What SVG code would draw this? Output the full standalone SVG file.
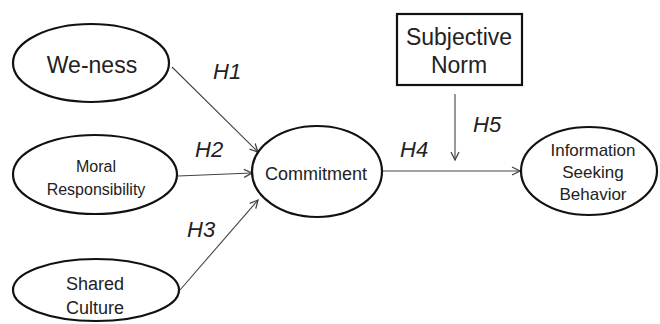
<svg xmlns="http://www.w3.org/2000/svg" width="660" height="324" viewBox="0 0 660 324">
  <style>
    .node { fill: #fff; stroke: #111; stroke-width: 2.2; }
    .lbl { font-family: "Liberation Sans", Arial, sans-serif; fill: #222; text-anchor: middle; }
    .hyp { font-family: "Liberation Sans", Arial, sans-serif; font-style: italic; fill: #222; font-size: 22px; }
    .edge { stroke: #444; stroke-width: 1.1; fill: none; marker-end: url(#open); }
  </style>
  <defs>
    <marker id="open" viewBox="0 0 10 10" refX="9" refY="5" markerWidth="10" markerHeight="10" markerUnits="userSpaceOnUse" orient="auto">
      <path d="M1,1 L9,5 L1,9" fill="none" stroke="#444" stroke-width="1.3"/>
    </marker>
  </defs>
  <rect width="660" height="324" fill="#fff"/>

  <!-- hypothesis paths -->
  <g id="connectors">
    <line class="edge" x1="172" y1="67" x2="258" y2="152"/>
    <line class="edge" x1="178" y1="176" x2="252" y2="173"/>
    <line class="edge" x1="180" y1="290" x2="258" y2="200"/>
    <line class="edge" x1="382" y1="171" x2="520" y2="171"/>
    <line class="edge" x1="455" y1="94" x2="455" y2="160"/>
  </g>

  <g id="labels">
    <text class="hyp" x="213" y="79">H1</text>
    <text class="hyp" x="195" y="157">H2</text>
    <text class="hyp" x="187" y="237">H3</text>
    <text class="hyp" x="400" y="157">H4</text>
    <text class="hyp" x="473" y="132">H5</text>
  </g>

  <g id="we-ness">
    <ellipse class="node" cx="91" cy="63" rx="78" ry="39"/>
    <text class="lbl" x="92" y="73" font-size="23">We-ness</text>
  </g>

  <g id="moral-responsibility">
    <ellipse class="node" cx="95" cy="174.5" rx="82" ry="39.5"/>
    <text class="lbl" x="96" y="172" font-size="16">Moral</text>
    <text class="lbl" x="96" y="195" font-size="16">Responsibility</text>
  </g>

  <g id="shared-culture">
    <ellipse class="node" cx="96" cy="290" rx="83" ry="31"/>
    <text class="lbl" x="95" y="290" font-size="18">Shared</text>
    <text class="lbl" x="95" y="314" font-size="18">Culture</text>
  </g>

  <g id="commitment">
    <ellipse class="node" cx="317" cy="171.5" rx="65" ry="45.5"/>
    <text class="lbl" x="316" y="180" font-size="18">Commitment</text>
  </g>

  <g id="subjective-norm">
    <rect class="node" x="397" y="14" width="125" height="71" stroke-width="2.6"/>
    <text class="lbl" x="459" y="45" font-size="23">Subjective</text>
    <text class="lbl" x="459" y="73" font-size="23">Norm</text>
  </g>

  <g id="information-seeking-behavior">
    <ellipse class="node" cx="589" cy="171" rx="68" ry="44"/>
    <text class="lbl" x="593" y="156" font-size="17">Information</text>
    <text class="lbl" x="593" y="178" font-size="17">Seeking</text>
    <text class="lbl" x="593" y="200" font-size="17">Behavior</text>
  </g>
</svg>
